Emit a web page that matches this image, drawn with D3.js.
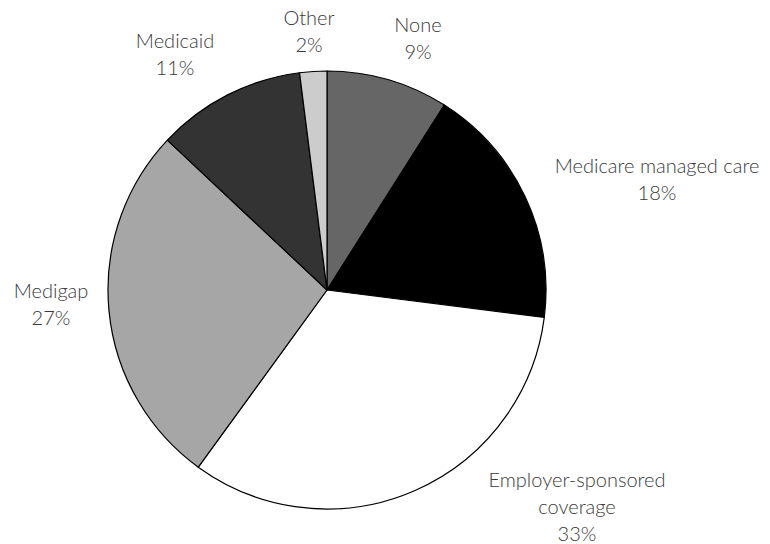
<!DOCTYPE html>
<html>
<head>
<meta charset="utf-8">
<script src="https://cdn.jsdelivr.net/npm/d3@7"></script>
<style>
  html, body { margin: 0; padding: 0; background: #fff; }
  svg { display: block; }
  .label text { font-family: Lato, "Open Sans", sans-serif; font-weight: 300; fill: #3a3a3a; }
</style>
</head>
<body>
<svg id="chart" width="770" height="544"></svg>
<script>
// Supplemental coverage among Medicare beneficiaries (share of total, %)
const categories = ["None", "Medicare managed care", "Employer-sponsored coverage", "Medigap", "Medicaid", "Other"];
const shares = [9, 18, 33, 27, 11, 2];
const labelLines = [
  ["None", "9%"],
  ["Medicare managed care", "18%"],
  ["Employer-sponsored", "coverage", "33%"],
  ["Medigap", "27%"],
  ["Medicaid", "11%"],
  ["Other", "2%"]
];

// Presentation
const fills = ["#666666", "#000000", "#ffffff", "#a6a6a6", "#333333", "#cccccc"];
const cx = 327, cy = 290, radius = 219;
// label anchor (centre x, first baseline y) for each slice, relative to pie centre
const labelAnchors = [
  [91, -258],
  [330, -117],
  [250, 197],
  [-276, 8],
  [-152, -242],
  [-18, -265]
];
const lineHeight = 27;
const fontSize = 20;

const data = categories.map((c, i) => ({ category: c, value: shares[i], index: i }));

const svg = d3.select("#chart");
const g = svg.append("g").attr("transform", `translate(${cx},${cy})`);

const pie = d3.pie().value(d => d.value).sort(null);
const arc = d3.arc().innerRadius(0).outerRadius(radius);

g.selectAll("path.slice")
  .data(pie(data))
  .join("path")
  .attr("class", "slice")
  .attr("d", arc)
  .attr("fill", d => fills[d.data.index])
  .attr("stroke", "#000")
  .attr("stroke-width", 1.2)
  .attr("stroke-linejoin", "round");

const labels = g.selectAll("g.label")
  .data(data)
  .join("g")
  .attr("class", "label")
  .attr("transform", d => `translate(${labelAnchors[d.index][0]},${labelAnchors[d.index][1]})`);

labels.each(function (d) {
  const t = d3.select(this).append("text")
    .attr("text-anchor", "middle")
    .attr("font-size", fontSize);
  labelLines[d.index].forEach((line, k) => {
    t.append("tspan").attr("x", 0).attr("y", k * lineHeight).text(line);
  });
});
</script>
</body>
</html>
